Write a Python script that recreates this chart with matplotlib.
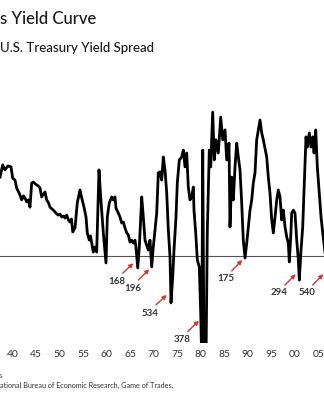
import matplotlib
matplotlib.use("Agg")
import matplotlib.pyplot as plt

# spread (pct points), by decimal year
years = [1937.30, 1937.87, 1938.36, 1939.00, 1939.64, 1940.00, 1940.49, 1940.85, 1941.55, 1941.91,
         1942.30, 1942.62, 1942.98, 1943.36, 1943.68, 1944.04, 1944.38, 1945.11, 1945.49, 1945.81,
         1946.17, 1946.87, 1947.23, 1947.62, 1947.94, 1948.64, 1949.21, 1949.64, 1950.06, 1950.43,
         1950.81, 1951.13, 1951.49, 1951.87, 1952.19, 1952.51, 1952.77, 1953.26, 1953.74, 1954.32,
         1954.68, 1955.17, 1955.60, 1955.87, 1956.30, 1956.55, 1956.81, 1957.15, 1957.51, 1957.87,
         1958.36, 1958.72, 1959.28, 1959.85, 1960.13, 1960.55, 1961.06, 1961.40, 1961.77, 1961.98,
         1962.47, 1962.83, 1963.19, 1963.53, 1963.89, 1964.26, 1964.60, 1964.96, 1965.32, 1965.66,
         1966.02, 1966.23, 1966.60, 1966.94, 1967.45, 1967.79, 1968.15, 1968.51, 1968.85, 1969.21,
         1969.57, 1969.91, 1970.28, 1970.64, 1970.98, 1971.34, 1971.70, 1972.04, 1972.40, 1972.77,
         1973.11, 1973.47, 1973.68, 1974.04, 1974.32, 1974.74, 1975.02, 1975.45, 1975.96, 1976.30,
         1976.66, 1977.02, 1977.36, 1977.72, 1978.09, 1978.43, 1978.57, 1978.94, 1979.28, 1979.70,
         1980.00, 1980.21, 1980.43, 1980.70, 1981.13, 1981.40, 1981.83, 1982.13, 1982.55, 1982.89,
         1983.26, 1983.74, 1984.26, 1984.68, 1985.17, 1985.53, 1986.02, 1986.23, 1986.60, 1986.94,
         1987.30, 1987.66, 1988.00, 1988.36, 1988.72, 1989.06, 1989.43, 1989.79, 1990.13, 1990.49,
         1990.85, 1991.19, 1991.55, 1991.91, 1992.26, 1992.62, 1992.98, 1993.32, 1994.04, 1994.38,
         1994.74, 1995.11, 1995.45, 1995.81, 1996.17, 1996.51, 1996.87, 1997.23, 1997.57, 1997.94,
         1998.30, 1998.64, 1998.85, 1999.15, 1999.36, 1999.70, 2000.06, 2000.43, 2000.77, 2000.98,
         2001.34, 2001.70, 2002.04, 2002.40, 2002.68, 2003.11, 2003.47, 2003.83, 2004.11, 2004.47,
         2004.81, 2005.23, 2005.60, 2005.96, 2006.23, 2006.66, 2007.50]
spread = [2.39, 2.76, 2.61, 2.73, 2.70, 2.36, 2.30, 2.06, 1.85, 1.70,
          1.82, 1.76, 1.64, 1.70, 1.48, 2.21, 2.24, 2.15, 2.12, 2.06,
          1.79, 1.94, 1.70, 1.61, 1.48, 1.39, 1.30, 1.24, 1.27, 1.18,
          1.21, 1.15, 1.24, 1.09, 1.03, 1.12, 0.73, 0.85, 1.61, 2.00,
          1.76, 1.48, 1.18, 0.70, 0.48, 0.61, 0.39, 0.12, 0.27, 0.12,
          2.61, 1.79, 0.70, -0.21, 1.18, 1.61, 1.79, 1.70, 1.79, 1.45,
          1.30, 1.18, 1.00, 1.03, 0.85, 0.70, 0.64, 0.42, 0.48, 0.39,
          0.48, 0.27, -0.36, 0.27, 1.79, 1.18, 0.48, 0.33, 0.18, 0.48,
          -0.33, 0.27, 0.79, 1.30, 2.52, 2.55, 2.30, 3.00, 2.61, 1.91,
          0.79, -0.03, -1.42, -0.64, 0.18, 1.18, 2.21, 2.91, 3.00, 3.21,
          2.70, 3.12, 2.09, 1.70, 1.79, 2.09, 1.39, 0.70, -0.12, -0.33,
          -1.73, -3.15, 3.21, -3.15, -3.15, 0.70, 3.21, 2.70, 4.36, 2.91,
          3.52, 3.12, 4.21, 3.52, 3.82, 2.91, 3.42, 0.88, 2.39, 1.70,
          2.70, 3.42, 3.00, 2.61, 1.61, 0.48, -0.06, 0.39, 0.88, 1.39,
          1.70, 2.21, 2.52, 3.52, 3.82, 4.12, 3.73, 3.52, 3.00, 2.39,
          1.91, 1.09, 0.70, 1.18, 1.70, 2.00, 1.79, 1.09, 1.39, 0.88,
          0.58, 0.39, -0.18, 0.58, 1.30, 1.39, 1.30, 0.48, -0.12, -0.73,
          0.18, 0.88, 2.21, 3.61, 3.30, 3.73, 3.30, 3.61, 3.12, 3.82,
          2.70, 1.91, 1.18, 0.70, 0.39, -0.18, -0.40]

tick_years = list(range(1940, 2006, 5))
tick_labels = ["40", "45", "50", "55", "60", "65", "70", "75", "80", "85", "90", "95", "00", "05"]

# inversion lead-time callouts
callout_labels = ["168", "196", "534", "378", "175", "294", "540"]
callout_tip = [(1965.66, -0.22), (1969.06, -0.40), (1972.77, -1.18), (1979.64, -1.96),
               (1988.85, -0.12), (2000.21, -0.55), (2006.09, -0.55)]
callout_tail = [(1963.40, -0.52), (1966.72, -0.73), (1970.49, -1.48), (1977.23, -2.29),
                (1986.60, -0.45), (1997.94, -0.88), (2003.83, -0.88)]
callout_text = [(1962.13, -0.78), (1965.53, -0.98), (1969.21, -1.74), (1975.96, -2.52),
                (1985.32, -0.68), (1996.72, -1.11), (2002.55, -1.11)]

plt.rcParams['font.family'] = ['Lato', 'DejaVu Sans']

fig = plt.figure(figsize=(3.24, 4.0), dpi=100)
ax = fig.add_axes([0, 0.1425, 1, 0.6075])

ax.axhline(0, color='#555555', lw=0.8, zorder=1)
ax.plot(years, spread, color='black', lw=2.0, zorder=2)

for lab, tip, tail, txt in zip(callout_labels, callout_tip, callout_tail, callout_text):
    ax.annotate("", xy=tip, xytext=tail,
                arrowprops=dict(arrowstyle="-|>", color='#d03a2f', lw=1.0,
                                mutation_scale=6, shrinkA=0, shrinkB=0))
    ax.text(txt[0], txt[1], lab, fontsize=7, color='#333333', ha='center', va='center',
            fontweight='bold')

ax.set_xlim(1937.30, 2006.23)
ax.set_ylim(-2.636, 4.727)
ax.set_xticks(tick_years)
ax.set_xticklabels(tick_labels)
ax.set_yticks([])
ax.tick_params(axis='x', length=0, pad=5, labelsize=7.5, labelcolor='#333333')
for s in ax.spines.values():
    s.set_visible(False)

fig.text(0.0, 1 - 19 / 400, "s Yield Curve", fontsize=12, color='#1a1a1a',
         ha='left', va='center', fontweight='medium')
fig.text(0.0, 1 - 48 / 400, "U.S. Treasury Yield Spread", fontsize=9.5, color='#1a1a1a',
         ha='left', va='center', fontweight='medium')
fig.text(-0.004, 1 - 375 / 400, "s.", fontsize=5.2, color='#333333', ha='left', va='center')
fig.text(0.0, 1 - 385.7 / 400, "ational Bureau of Economic Research, Game of Trades.",
         fontsize=5.2, color='#333333', ha='left', va='center')

fig.savefig("out.png", dpi=100)
